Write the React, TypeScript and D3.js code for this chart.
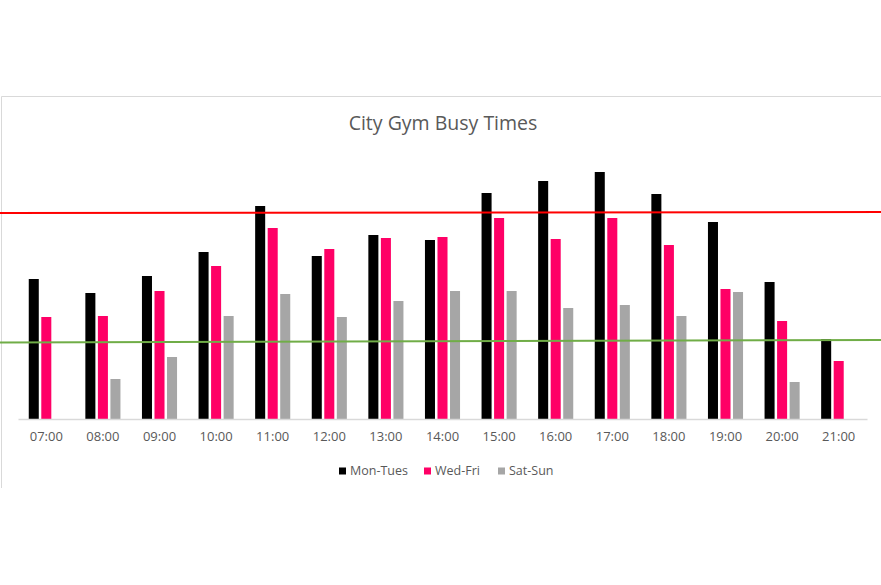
import { useEffect, useRef } from "react";
import * as d3 from "d3";

// Heures affichées
const hours = [
  "07:00", "08:00", "09:00", "10:00", "11:00", "12:00", "13:00", "14:00",
  "15:00", "16:00", "17:00", "18:00", "19:00", "20:00", "21:00",
];

const seriesNames = ["Mon-Tues", "Wed-Fri", "Sat-Sun"];
const seriesColors = ["#000000", "#ff0066", "#a6a6a6"];

// Fréquentation estimée
const monTues = [140, 126, 143, 167, 213, 163, 184, 179, 226, 238, 247, 225, 197, 137, 80];
const wedFri = [102, 103, 128, 153, 191, 170, 181, 182, 201, 180, 201, 174, 130, 98, 58];
const satSun = [0, 40, 62, 103, 125, 102, 118, 128, 128, 111, 114, 103, 127, 37, 0];

// Lignes de seuil (valeur à gauche, valeur à droite)
const busyLine = [206, 207];
const quietLine = [76.5, 79];

const W = 881;
const H = 585;

export default function App() {
  const svgRef = useRef<SVGSVGElement>(null);

  useEffect(() => {
    if (!svgRef.current) return;
    const svg = d3.select(svgRef.current);
    svg.selectAll("*").remove();

    const font = "Open Sans, Noto Sans, sans-serif";
    const baseY = 419;
    const plotLeft = 18;
    const plotRight = 867;

    // Cadre du graphique
    svg
      .append("path")
      .attr("d", `M1.5,488 V96.5 H${W}`)
      .attr("fill", "none")
      .attr("stroke", "#d9d9d9")
      .attr("stroke-width", 1);

    // Titre
    svg
      .append("text")
      .attr("x", 443)
      .attr("y", 123)
      .attr("dy", "0.35em")
      .attr("text-anchor", "middle")
      .style("font-family", font)
      .style("font-size", "19.5px")
      .style("fill", "#595959")
      .text("City Gym Busy Times");

    // Échelles
    const x0 = d3
      .scaleBand()
      .domain(hours)
      .range([plotLeft, plotRight])
      .paddingInner(0.38)
      .paddingOuter(0.19);

    const x1 = d3
      .scaleBand()
      .domain(seriesNames)
      .range([0, x0.bandwidth()])
      .paddingInner(0.2);

    const y = d3.scaleLinear().domain([0, 250]).range([baseY, baseY - 250]);

    const color = d3.scaleOrdinal<string>().domain(seriesNames).range(seriesColors);

    const values = [monTues, wedFri, satSun];
    const rows = hours.map((h, i) => ({
      hour: h,
      vals: seriesNames.map((s, k) => ({ key: s, value: values[k][i] })),
    }));

    // Barres
    const groups = svg
      .append("g")
      .selectAll("g")
      .data(rows)
      .enter()
      .append("g")
      .attr("transform", (d) => `translate(${x0(d.hour)},0)`);

    groups
      .selectAll("rect")
      .data((d) => d.vals.filter((v) => v.value > 0))
      .enter()
      .append("rect")
      .attr("x", (d) => x1(d.key) || 0)
      .attr("y", (d) => y(d.value))
      .attr("width", x1.bandwidth())
      .attr("height", (d) => baseY - y(d.value))
      .attr("fill", (d) => color(d.key));

    // Axe X
    const axis = svg
      .append("g")
      .attr("transform", `translate(0,${baseY})`)
      .call(d3.axisBottom(x0).tickSize(0).tickPadding(13));
    axis.select(".domain").attr("stroke", "#d9d9d9").attr("stroke-width", 1.5);
    axis
      .selectAll("text")
      .style("font-family", font)
      .style("font-size", "13px")
      .style("fill", "#595959");

    // Lignes de seuil
    const xl = d3.scaleLinear().domain([0, 1]).range([0, W]);
    const line = d3
      .line<number>()
      .x((_, i) => xl(i))
      .y((d) => y(d));

    svg
      .append("path")
      .datum(busyLine)
      .attr("d", line)
      .attr("fill", "none")
      .attr("stroke", "#ff0000")
      .attr("stroke-width", 2);

    svg
      .append("path")
      .datum(quietLine)
      .attr("d", line)
      .attr("fill", "none")
      .attr("stroke", "#70ad47")
      .attr("stroke-width", 2);

    // Légende
    const legendX = [339, 424, 498];
    const legend = svg
      .append("g")
      .selectAll("g")
      .data(seriesNames)
      .enter()
      .append("g")
      .attr("transform", (_, i) => `translate(${legendX[i]},471)`);

    legend
      .append("rect")
      .attr("x", 0)
      .attr("y", -3.5)
      .attr("width", 7)
      .attr("height", 7)
      .attr("fill", (d) => color(d));

    legend
      .append("text")
      .attr("x", 11)
      .attr("y", 0)
      .attr("dy", "0.35em")
      .style("font-family", font)
      .style("font-size", "12.5px")
      .style("fill", "#595959")
      .text((d) => d);
  }, []);

  return (
    <div style={{ position: "absolute", left: 0, top: 0, width: W, height: H, background: "#fff" }}>
      <svg ref={svgRef} width={W} height={H} />
    </div>
  );
}
